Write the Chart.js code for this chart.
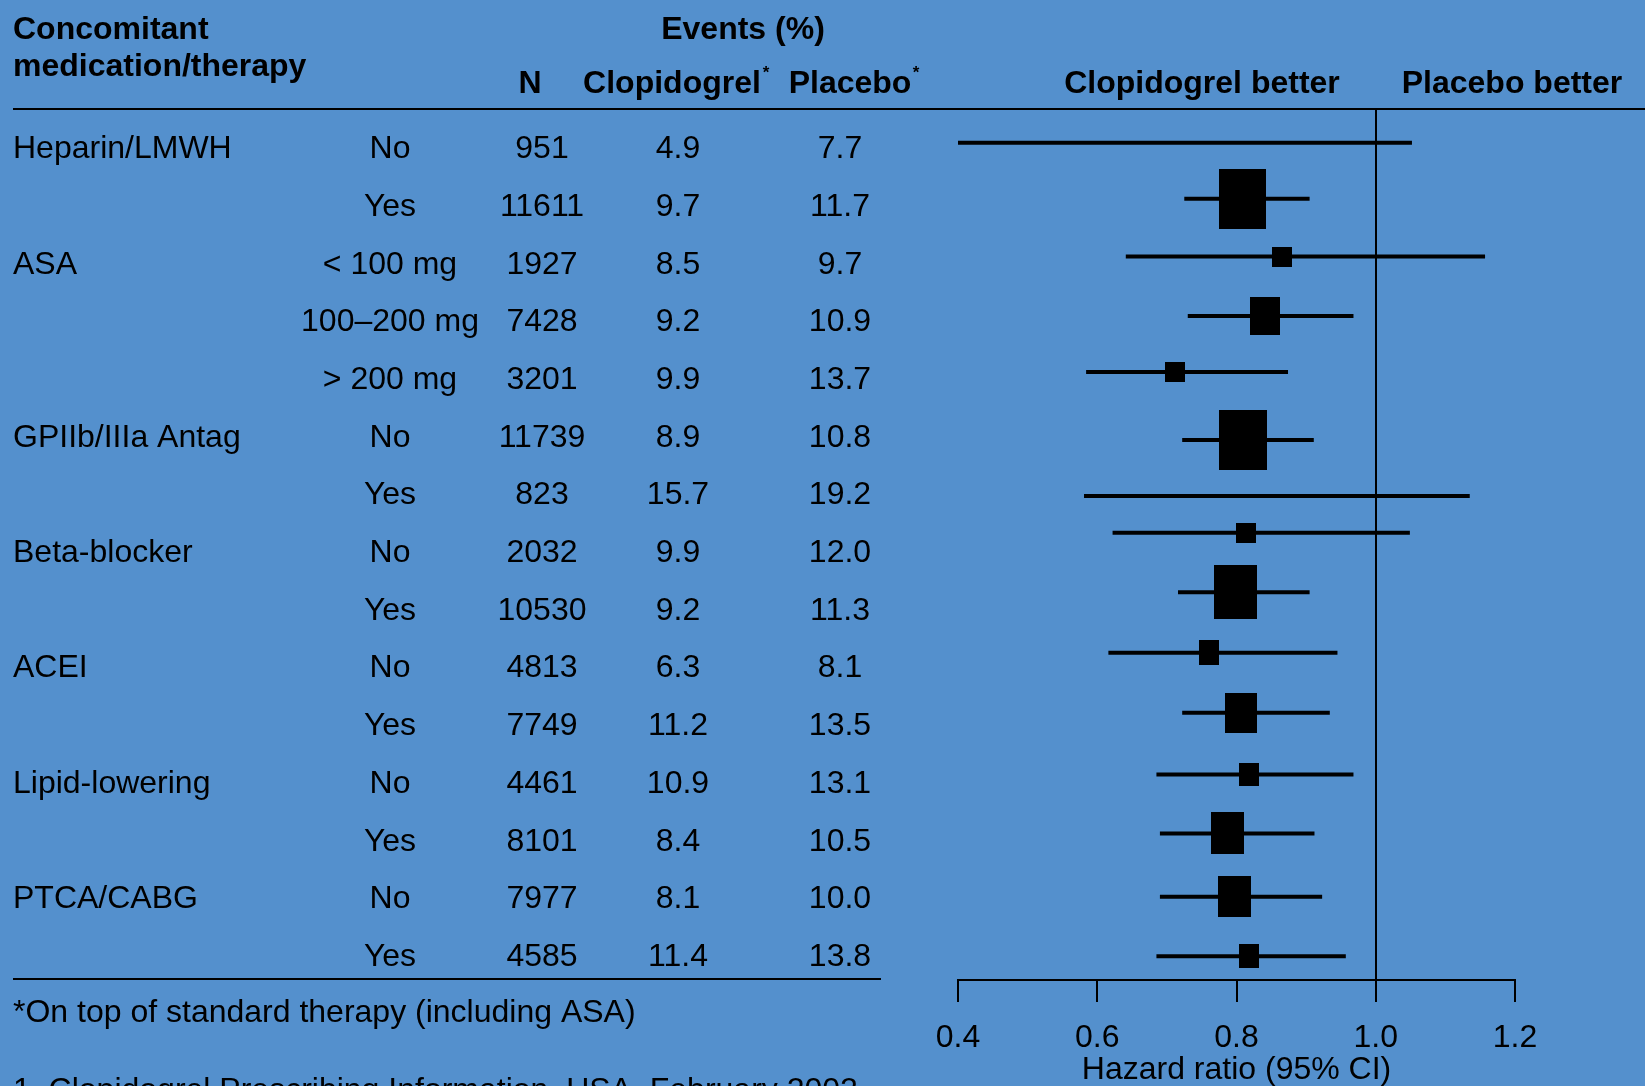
<!DOCTYPE html>
<html>
<head>
<meta charset="utf-8">
<script src="https://cdn.jsdelivr.net/npm/chart.js@4/dist/chart.umd.min.js"></script>
<style>
  html, body { margin: 0; padding: 0; background: #5490cd; }
  canvas { display: block; }
</style>
</head>
<body>
<canvas id="forest" width="1645" height="1086"></canvas>
<script>
// Table columns
const groups = ['Heparin/LMWH', '', 'ASA', '', '', 'GPIIb/IIIa Antag', '', 'Beta-blocker', '', 'ACEI', '', 'Lipid-lowering', '', 'PTCA/CABG', ''];
const subgroups = ['No', 'Yes', '< 100 mg', '100–200 mg', '> 200 mg', 'No', 'Yes', 'No', 'Yes', 'No', 'Yes', 'No', 'Yes', 'No', 'Yes'];
const nPatients = [951, 11611, 1927, 7428, 3201, 11739, 823, 2032, 10530, 4813, 7749, 4461, 8101, 7977, 4585];
const clopEvents = ['4.9', '9.7', '8.5', '9.2', '9.9', '8.9', '15.7', '9.9', '9.2', '6.3', '11.2', '10.9', '8.4', '8.1', '11.4'];
const placeboEvents = ['7.7', '11.7', '9.7', '10.9', '13.7', '10.8', '19.2', '12.0', '11.3', '8.1', '13.5', '13.1', '10.5', '10.0', '13.8'];

// Forest plot values (no box drawn for the two smallest subgroups)
const hazardRatio = [null, 0.809, 0.865, 0.841, 0.712, 0.809, null, 0.813, 0.798, 0.761, 0.807, 0.818, 0.787, 0.797, 0.818];
const ciLower = [0.40, 0.725, 0.641, 0.730, 0.584, 0.722, 0.581, 0.622, 0.716, 0.616, 0.722, 0.685, 0.690, 0.690, 0.685];
const ciUpper = [1.052, 0.905, 1.157, 0.968, 0.874, 0.911, 1.135, 1.049, 0.905, 0.945, 0.934, 0.968, 0.912, 0.923, 0.957];
// row position of each plotted line (the plot is slightly off the table rows)
const markRow = [-0.07, 0.90, 1.90, 2.93, 3.90, 5.08, 6.05, 6.69, 7.72, 8.77, 9.81, 10.88, 11.90, 13.0, 14.03];
const axisTicks = [0.4, 0.6, 0.8, 1.0, 1.2];

const BG = '#5490cd';
const FONT = '"Liberation Sans", Arial, Helvetica, sans-serif';
Chart.defaults.font.family = FONT;
Chart.defaults.color = '#000';

// Box size follows the subgroup size
function boxImage(n) {
  const c = document.createElement('canvas');
  c.width = Math.round(Math.max(20, n / 245));
  c.height = Math.round(Math.max(20, n / 195));
  const g = c.getContext('2d');
  g.fillStyle = '#000';
  g.fillRect(0, 0, c.width, c.height);
  return c;
}
const boxes = nPatients.map(boxImage);

// CI segments, separated by gaps
const ciData = [];
ciLower.forEach((lo, i) => {
  ciData.push({ x: lo, y: markRow[i] }, { x: ciUpper[i], y: markRow[i] }, { x: null, y: null });
});

// Table text, rules and background
const tablePlugin = {
  id: 'table',
  beforeDraw(chart) {
    const ctx = chart.ctx;
    ctx.save();
    ctx.fillStyle = BG;
    ctx.fillRect(0, 0, chart.width, chart.height);
    ctx.restore();
  },
  afterDraw(chart) {
    const ctx = chart.ctx;
    const yScale = chart.scales.y;
    ctx.save();
    ctx.fillStyle = '#000';
    ctx.strokeStyle = '#000';
    ctx.textBaseline = 'middle';

    // headers
    ctx.font = 'bold 32px ' + FONT;
    ctx.textAlign = 'left';
    ctx.fillText('Concomitant', 13, 30);
    ctx.fillText('medication/therapy', 13, 67);
    ctx.textAlign = 'center';
    ctx.fillText('Events (%)', 743, 30);
    ctx.fillText('N', 530, 84);
    ctx.fillText('Clopidogrel', 672, 84);
    ctx.fillText('Placebo', 850, 84);
    ctx.fillText('Clopidogrel better', 1202, 84);
    ctx.fillText('Placebo better', 1512, 84);
    ctx.font = 'bold 17px ' + FONT;
    ctx.fillText('*', 766, 73);
    ctx.fillText('*', 916, 73);

    // rules
    ctx.lineWidth = 2;
    ctx.beginPath();
    ctx.moveTo(13, 109);
    ctx.lineTo(chart.width, 109);
    ctx.moveTo(13, 979);
    ctx.lineTo(881, 979);
    ctx.stroke();

    // rows
    ctx.font = '32px ' + FONT;
    groups.forEach((g, i) => {
      const y = yScale.getPixelForValue(i) + 2.5;
      ctx.textAlign = 'left';
      if (g) ctx.fillText(g, 13, y);
      ctx.textAlign = 'center';
      ctx.fillText(subgroups[i], 390, y);
      ctx.fillText(String(nPatients[i]), 542, y);
      ctx.fillText(clopEvents[i], 678, y);
      ctx.fillText(placeboEvents[i], 840, y);
    });

    // footnotes
    ctx.textAlign = 'left';
    ctx.fillText('*On top of standard therapy (including ASA)', 13, 1013);
    ctx.fillText('1. Clopidogrel Prescribing Information, USA, February 2002', 13, 1091);
    ctx.restore();
  }
};

new Chart(document.getElementById('forest'), {
  type: 'scatter',
  data: {
    datasets: [
      {
        label: 'Hazard ratio',
        data: hazardRatio.map((v, i) => ({ x: v, y: markRow[i] })),
        pointStyle: c => boxes[c.dataIndex],
        pointRadius: 10,
        pointHoverRadius: 10
      },
      {
        label: '95% CI',
        data: ciData,
        showLine: true,
        spanGaps: false,
        borderColor: '#000',
        borderWidth: 4,
        pointRadius: 0,
        pointHoverRadius: 0
      }
    ]
  },
  options: {
    responsive: false,
    animation: false,
    layout: { padding: { left: 958, right: 130, top: 109, bottom: 0 } },
    plugins: { legend: { display: false }, tooltip: { enabled: false } },
    scales: {
      x: {
        type: 'linear',
        min: 0.4,
        max: 1.2,
        afterBuildTicks: scale => { scale.ticks = axisTicks.map(v => ({ value: v })); },
        afterFit: scale => { scale.height = 106; },
        ticks: {
          color: '#000',
          padding: 23,
          font: { size: 32, lineHeight: 0.8 },
          callback: v => Number(v).toFixed(1)
        },
        grid: {
          drawOnChartArea: true,
          color: c => (c.tick && Math.abs(c.tick.value - 1) < 1e-6) ? '#000' : 'rgba(0,0,0,0)',
          lineWidth: 2,
          tickColor: '#000',
          tickWidth: 2,
          tickLength: 22
        },
        border: { display: true, color: '#000', width: 2 },
        title: {
          display: true,
          text: 'Hazard ratio (95% CI)',
          color: '#000',
          font: { size: 32 },
          padding: { top: 0, bottom: -3 }
        }
      },
      y: {
        type: 'linear',
        reverse: true,
        min: -0.657,
        max: 14.441,
        display: false
      }
    }
  },
  plugins: [tablePlugin]
});
</script>
</body>
</html>
